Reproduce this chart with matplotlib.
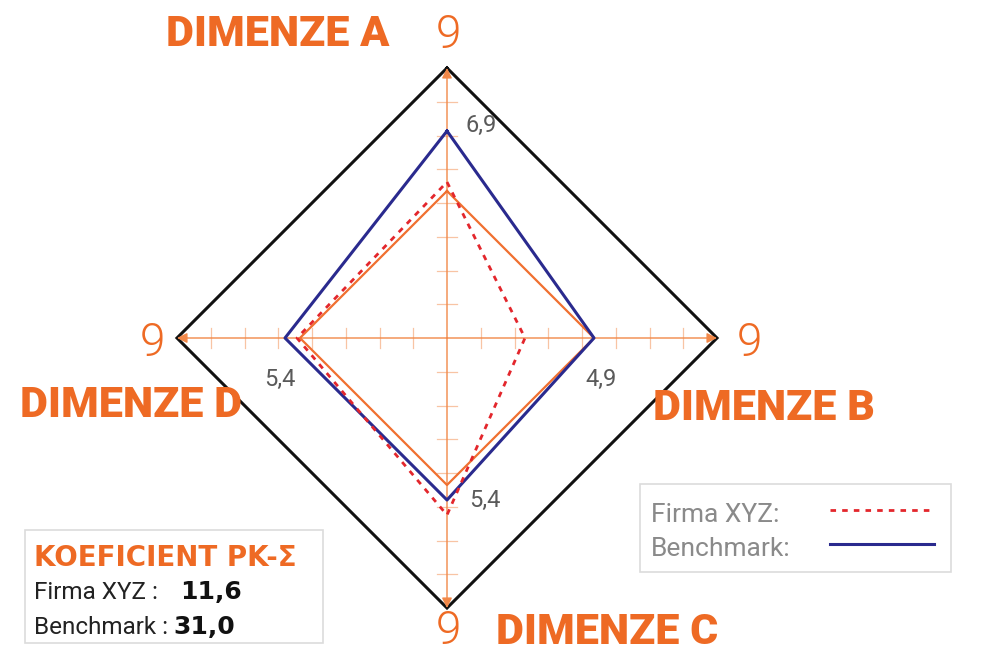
import numpy as np
import matplotlib
matplotlib.use("Agg")
import matplotlib.pyplot as plt
from matplotlib.patches import Rectangle

# data
dimensions = ["DIMENZE A", "DIMENZE B", "DIMENZE C", "DIMENZE D"]
vmax = 9
firma = [5.2, 2.6, 5.9, 5.0]
benchmark = [6.9, 4.9, 5.4, 5.4]
reference = [4.9, 4.9, 4.9, 4.9]
series_names = ["Firma XYZ:", "Benchmark:"]
koef_title = "KOEFICIENT PK-Σ"
koef_names = ["Firma XYZ :", "Benchmark :"]
koef_values = [11.6, 31.0]

ORANGE = "#ee6a24"
AXIS_ORANGE = "#f28848"
TICK_ORANGE = "#f8c4a4"
NAVY = "#2a2a8e"
RED = "#e3262c"

ROBOTO = ["Roboto", "DejaVu Sans"]

W, H = 1002, 654
CX, CY = 447, 338
SCALE = 30.0  # pixels per unit


def p(x, y):
    # pixel position (from top left) -> data coords
    return (x - CX) / SCALE, (CY - y) / SCALE


def fmt(v):
    return f"{v:.1f}".replace(".", ",")


fig = plt.figure(figsize=(W / 100, H / 100), dpi=100)
ax = fig.add_axes([0, 0, 1, 1])
ax.set_xlim(-CX / SCALE, (W - CX) / SCALE)
ax.set_ylim(-(H - CY) / SCALE, CY / SCALE)
ax.axis("off")

angles = np.deg2rad([90, 0, -90, 180])
dirs = np.c_[np.cos(angles), np.sin(angles)]


def poly(vals):
    pts = np.array(vals)[:, None] * dirs
    pts = np.vstack([pts, pts[:1]])
    return pts[:, 0], pts[:, 1]


# outer frame
ox, oy = poly([vmax] * 4)
ax.plot(ox, oy, color="#111111", lw=2.2, solid_joinstyle="miter", zorder=2)

# axes with arrows and ticks
for d in dirs:
    ax.annotate("", xy=(d[0] * vmax, d[1] * vmax), xytext=(0, 0),
                arrowprops=dict(arrowstyle="-|>", color=AXIS_ORANGE, lw=1.0,
                                mutation_scale=15, shrinkA=0, shrinkB=0),
                zorder=3)
    for t in np.linspace(0, vmax, 9)[1:-1]:
        px, py = d * t
        nx, ny = -d[1] * 0.33, d[0] * 0.33
        ax.plot([px - nx, px + nx], [py - ny, py + ny], color=TICK_ORANGE, lw=0.9, zorder=1)

# series
rx, ry = poly(reference)
ax.plot(rx, ry, color="#f07030", lw=1.6, zorder=4)
bx, by = poly(benchmark)
ax.plot(bx, by, color=NAVY, lw=2.2, zorder=5)
fx, fy = poly(firma)
ax.plot(fx, fy, color=RED, lw=2.0, dashes=(2.0, 2.2), zorder=6)

# benchmark value labels
offsets = [(13, 4), (5, -30), (16, 0), (-4, -30)]
aligns = ["left", "center", "left", "center"]
for v, d, off, ha in zip(benchmark, dirs, offsets, aligns):
    ax.annotate(fmt(v), xy=(d[0] * v, d[1] * v), xytext=off, textcoords="offset points",
                ha=ha, va="center", fontsize=17, color="#5a5a5a", family=ROBOTO)

# max labels and dimension names
nine_pos = [(448, 30), (749, 338), (448, 627), (152, 338)]
name_pos = [(278, 30), (764, 404), (607, 628), (131, 401)]
for name, npos, tpos in zip(dimensions, nine_pos, name_pos):
    ax.text(*p(*npos), str(vmax), ha="center", va="center_baseline", fontsize=33,
            color=ORANGE, family=ROBOTO, fontweight=300)
    ax.text(*p(*tpos), name, ha="center", va="center_baseline", fontsize=31,
            color=ORANGE, family=ROBOTO, fontweight=900)

# legend box
x0, y0 = p(640, 572)
x1, y1 = p(951, 484)
ax.add_patch(Rectangle((x0, y0), x1 - x0, y1 - y0, fill=False, ec="#dcdcdc", lw=1.2))
styles = [dict(color=RED, lw=2.0, dashes=(2.0, 2.2)), dict(color=NAVY, lw=2.2)]
for i, (name, st) in enumerate(zip(series_names, styles)):
    yy = 512 + i * 34
    ax.text(*p(651, yy), name, ha="left", va="center_baseline", fontsize=19,
            color="#8a8a8a", family=ROBOTO)
    lx0, ly = p(830, yy - 2)
    lx1, _ = p(934, yy - 2)
    ax.plot([lx0, lx1], [ly, ly], **st)

# coefficient box
x0, y0 = p(25, 643)
x1, y1 = p(323, 530)
ax.add_patch(Rectangle((x0, y0), x1 - x0, y1 - y0, fill=False, ec="#dcdcdc", lw=1.2))
ax.text(*p(34, 555), koef_title, ha="left", va="center_baseline", fontsize=20,
        color=ORANGE, family=["DejaVu Sans"], fontweight="bold")
gaps = [16, 4]
for i, (name, val, gap) in enumerate(zip(koef_names, koef_values, gaps)):
    yy = 599 + i * 35
    lbl = ax.text(*p(34, yy), name, ha="left", va="baseline", fontsize=17.5,
                  color="#222222", family=ROBOTO)
    ax.annotate(fmt(val), xy=(1, 0), xycoords=lbl, xytext=(gap, 0),
                textcoords="offset points", ha="left", va="bottom", fontsize=18,
                color="#111111", family=["DejaVu Sans"], fontweight="bold")

fig.savefig("out.png", dpi=100, facecolor="white")
